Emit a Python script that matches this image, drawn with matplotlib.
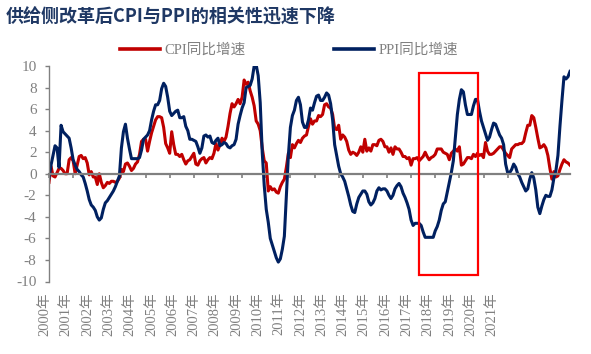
import numpy as np
import matplotlib.pyplot as plt
from matplotlib.patches import Rectangle
from matplotlib.lines import Line2D
from matplotlib.font_manager import FontProperties

# 月度同比（%），2000年1月 - 2021年8月
cpi = [
    -0.8, 0.7, -0.2, -0.3, 0.1, 0.5, 0.5, 0.3, 0.0, 0.0, 1.3, 1.5,
    1.2, 0.0, 0.8, 1.6, 1.7, 1.4, 1.5, 1.0, -0.1, 0.2, -0.3, -0.3,
    -1.0, 0.0, -0.8, -1.3, -1.1, -0.8, -0.9, -0.7, -0.7, -0.8, -0.7, -0.4,
    0.4, 0.2, 0.9, 1.0, 0.7, 0.3, 0.5, 0.9, 1.1, 1.8, 3.0, 3.2,
    3.2, 2.1, 3.0, 3.8, 4.4, 5.0, 5.3, 5.3, 5.2, 4.3, 2.8, 2.4,
    1.9, 3.9, 2.7, 1.8, 1.8, 1.6, 1.8, 1.3, 0.9, 1.2, 1.3, 1.6,
    1.9, 0.9, 0.8, 1.2, 1.4, 1.5, 1.0, 1.3, 1.5, 1.4, 1.9, 2.8,
    2.2, 2.7, 3.3, 3.0, 3.4, 4.4, 5.6, 6.5, 6.2, 6.5, 6.9, 6.5,
    7.1, 8.7, 8.3, 8.5, 7.7, 7.1, 6.3, 4.9, 4.6, 4.0, 2.4, 1.2,
    1.0, -1.6, -1.2, -1.5, -1.4, -1.7, -1.8, -1.2, -0.8, -0.5, 0.6, 1.9,
    1.5, 2.7, 2.4, 2.8, 3.1, 2.9, 3.3, 3.5, 3.6, 4.4, 5.1, 4.6,
    4.9, 4.9, 5.4, 5.3, 5.5, 6.4, 6.5, 6.2, 6.1, 5.5, 4.2, 4.1,
    4.5, 3.2, 3.6, 3.4, 3.0, 2.2, 1.8, 2.0, 1.9, 1.7, 2.0, 2.5,
    2.0, 3.2, 2.1, 2.4, 2.1, 2.7, 2.7, 2.6, 3.1, 3.2, 3.0, 2.5,
    2.5, 2.0, 2.4, 1.8, 2.5, 2.3, 2.3, 2.0, 1.6, 1.6, 1.4, 1.5,
    0.8, 1.4, 1.4, 1.5, 1.2, 1.4, 1.6, 2.0, 1.6, 1.3, 1.5, 1.6,
    1.8, 2.3, 2.3, 2.3, 2.0, 1.9, 1.8, 1.3, 1.9, 2.1, 2.3, 2.1,
    2.5, 0.8, 0.9, 1.2, 1.5, 1.5, 1.4, 1.8, 1.6, 1.9, 1.7, 1.8,
    1.5, 2.9, 2.1, 1.8, 1.8, 1.9, 2.1, 2.3, 2.5, 2.5, 2.2, 1.9,
    1.7, 1.5, 2.3, 2.5, 2.7, 2.7, 2.8, 2.8, 3.0, 3.8, 4.5, 4.5,
    5.4, 5.2, 4.3, 3.3, 2.4, 2.5, 2.7, 2.4, 1.7, 0.5, -0.5, 0.2,
    -0.3, -0.2, 0.4, 0.9, 1.3, 1.1, 1.0, 0.8,
]

ppi = [
    -0.4, 0.8, 1.7, 2.6, 2.4, 0.6, 4.5, 3.9, 3.7, 3.5, 3.3, 2.4,
    1.3, 0.8, 0.4, 0.2, -0.1, -0.3, -0.9, -1.6, -2.4, -2.9, -3.1, -3.4,
    -4.0, -4.3, -4.1, -3.3, -2.7, -2.5, -2.2, -1.9, -1.6, -1.2, -0.7, -0.2,
    2.4, 3.9, 4.6, 3.3, 2.3, 1.4, 1.4, 1.4, 1.4, 1.5, 2.2, 3.2,
    3.4, 3.6, 4.0, 5.0, 5.8, 6.4, 6.4, 6.8, 7.9, 8.4, 8.1, 7.1,
    5.8, 5.4, 5.6, 5.8, 5.9, 5.2, 5.2, 5.3, 4.4, 4.0, 3.2, 3.2,
    3.1, 3.0, 2.5, 1.9, 2.4, 3.5, 3.6, 3.4, 3.5, 2.9, 2.8, 3.1,
    3.3, 2.6, 2.7, 2.9, 2.8, 2.5, 2.4, 2.6, 2.7, 3.2, 4.6, 5.4,
    6.1, 6.6, 8.0, 8.1, 8.2, 8.8, 10.0, 10.1, 9.1, 6.6, 2.0, -1.1,
    -3.3, -4.5, -6.0, -6.6, -7.2, -7.8, -8.2, -7.9, -7.0, -5.8, -2.1, 1.7,
    4.3, 5.4, 5.9, 6.8, 7.1, 6.4, 4.8, 4.3, 4.3, 5.0, 6.1, 5.9,
    6.6, 7.2, 7.3, 6.8, 6.8, 7.1, 7.5, 7.3, 6.5, 5.0, 2.7, 1.7,
    0.7, 0.0, -0.3, -0.7, -1.4, -2.1, -2.9, -3.5, -3.6, -2.8, -2.2, -1.9,
    -1.6, -1.6, -1.9, -2.6, -2.9, -2.7, -2.3, -1.6, -1.3, -1.5, -1.4, -1.4,
    -1.6, -2.0, -2.3, -2.0, -1.4, -1.1, -0.9, -1.2, -1.8, -2.2, -2.7, -3.3,
    -4.3, -4.8, -4.6, -4.6, -4.6, -4.8, -5.4, -5.9, -5.9, -5.9, -5.9, -5.9,
    -5.3, -4.9, -4.3, -3.4, -2.8, -2.6, -1.7, -0.8, 0.1, 1.2, 3.3, 5.5,
    6.9, 7.8, 7.6, 6.4, 5.5, 5.5, 5.5, 6.3, 6.9, 6.9, 5.8, 4.9,
    4.3, 3.7, 3.1, 3.4, 4.1, 4.7, 4.6, 4.1, 3.6, 3.3, 2.7, 0.9,
    0.1, 0.1, 0.4, 0.9, 0.6, 0.0, -0.3, -0.8, -1.2, -1.6, -1.4, -0.5,
    0.1, -0.4, -1.5, -3.1, -3.7, -3.0, -2.4, -2.0, -2.1, -2.1, -1.5, -0.4,
    0.3, 1.7, 4.4, 6.8, 9.0, 8.8, 9.0, 9.5,
]

years = list(range(2000, 2022))
year_labels = [f"{y}年" for y in years]
y_ticks = list(range(-10, 11, 2))

title = "供给侧改革后CPI与PPI的相关性迅速下降"
series_names = ["CPI同比增速", "PPI同比增速"]

# 红框：2015年5月 - 2017年10月
box_start, box_end = 184, 213.3
box_low, box_high = -9.4, 9.35

RED = "#C00000"
NAVY = "#002060"
GRAY = "#808080"

W, H = 591, 354
mixed = ["Liberation Serif", "Noto Sans CJK SC"]


def main():
    fig = plt.figure(figsize=(W / 100, H / 100), dpi=100)
    ax = fig.add_axes([49 / W, (H - 281.5) / H, (570 - 49) / W, (281.5 - 66) / H])

    months = np.arange(len(cpi))
    ax.plot(months, cpi, color=RED, lw=2.2, solid_joinstyle="round")
    ax.plot(months, ppi, color=NAVY, lw=2.2, solid_joinstyle="round")

    ax.add_patch(Rectangle((box_start, box_low), box_end - box_start, box_high - box_low,
                           fill=False, edgecolor="#FF0000", lw=1.6, zorder=5))

    ax.set_xlim(0, len(cpi) - 1)
    ax.set_ylim(-10, 10)

    ax.spines["top"].set_visible(False)
    ax.spines["right"].set_visible(False)
    ax.spines["bottom"].set_position(("data", 0))
    ax.spines["bottom"].set_color(GRAY)
    ax.spines["bottom"].set_linewidth(1.6)
    ax.spines["left"].set_color(GRAY)
    ax.spines["left"].set_linewidth(1.0)

    ax.set_xticks(np.arange(0, len(cpi), 12))
    ax.set_xticklabels([])
    ax.tick_params(axis="x", direction="out", length=3, width=1.2, color=GRAY)

    ax.set_yticks(y_ticks)
    ax.set_yticklabels([str(v) for v in y_ticks], family="Liberation Serif",
                       fontsize=11, color=GRAY)
    ax.tick_params(axis="y", direction="out", length=3, width=1.0, color=GRAY, pad=6)

    # 年份标签
    label_x = np.linspace(45, 492, len(years)) / W
    for x, lab in zip(label_x, year_labels):
        fig.text(x, 1 - 292 / H, lab, rotation=90, ha="center", va="top",
                 fontsize=10.5, color=GRAY, family=mixed)

    fig.text(6 / W, 1 - 17 / H, title, fontsize=13, fontweight="bold",
             color="#1F3864", va="center", ha="left", family="Noto Sans CJK SC")

    handles = [Line2D([], [], color=RED, lw=2.6), Line2D([], [], color=NAVY, lw=2.6)]
    fig.legend(handles, series_names, loc="center left",
               bbox_to_anchor=(120 / W, 1 - 50 / H), ncol=2, frameon=False,
               prop=FontProperties(family=mixed, size=10.5),
               labelcolor=GRAY, handlelength=2.75, handletextpad=0.3,
               columnspacing=6.05, borderpad=0, borderaxespad=0)

    fig.savefig("out.png", dpi=100)


if __name__ == "__main__":
    main()
